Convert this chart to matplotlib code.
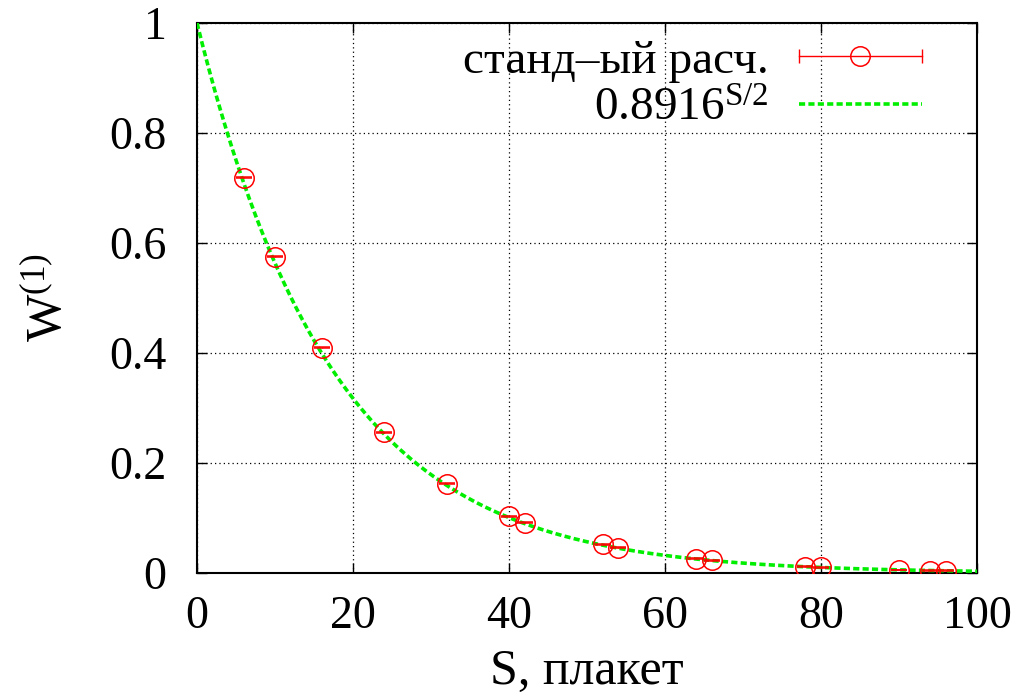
import numpy as np
import matplotlib
matplotlib.use("Agg")
import matplotlib.pyplot as plt
from matplotlib.lines import Line2D
from matplotlib.legend_handler import HandlerBase

# measured points (standard calculation)
s_vals = [6, 10, 16, 24, 32, 40, 42, 52, 54, 64, 66, 78, 80, 90, 94, 96]
w_vals = [0.719, 0.575, 0.410, 0.256, 0.162, 0.103, 0.0915, 0.052, 0.046,
          0.026, 0.023, 0.0115, 0.0103, 0.0055, 0.0042, 0.0040]
w_err = [0.0008] * len(s_vals)

fit_base = 0.8916
x_ticks = [0, 20, 40, 60, 80, 100]
y_ticks = [0, 0.2, 0.4, 0.6, 0.8, 1]

plt.rcParams['font.family'] = ['Liberation Serif', 'DejaVu Serif']
plt.rcParams['mathtext.fontset'] = 'custom'
plt.rcParams['mathtext.rm'] = 'Liberation Serif'
plt.rcParams['mathtext.it'] = 'Liberation Serif'

GREEN = '#00ee00'


class HandlerGnuErr(HandlerBase):
    """gnuplot-like key sample: horizontal bar with caps and a circle"""
    def create_artists(self, legend, orig_handle, xdescent, ydescent,
                       width, height, fontsize, trans):
        y = height / 2 - ydescent
        x0, x1 = -xdescent, width - xdescent
        bar = Line2D([x0, x1], [y, y], color='red', lw=1.0, transform=trans)
        caps = Line2D([x0, x1], [y, y], ls='none', marker='|', ms=10,
                      mew=1.0, color='red', transform=trans)
        circ = Line2D([(x0 + x1) / 2], [y], ls='none', marker='o', ms=14,
                      mfc='none', mec='red', mew=1.1, transform=trans)
        return [bar, caps, circ]


fig = plt.figure(figsize=(10.25, 7), dpi=100)
ax = fig.add_axes([0.1922, 0.1814, 0.761, 0.7857])

s_line = np.linspace(0, 100, 400)
ax.plot(s_line, fit_base ** (s_line / 2), color=GREEN, lw=2.6,
        dashes=(1.7, 0.9), zorder=3)
ax.errorbar(s_vals, w_vals, yerr=w_err, fmt='o', ms=14, mfc='none',
            mec='red', mew=1.1, ecolor='red', elinewidth=1.0, capsize=6,
            capthick=1.4, zorder=4)

ax.set_xlim(0, 100)
ax.set_ylim(0, 1)
ax.set_xticks(x_ticks)
ax.set_yticks(y_ticks)
ax.set_xticklabels([str(v) for v in x_ticks])
ax.set_yticklabels(['0', '0.2', '0.4', '0.6', '0.8', '1'])
ax.tick_params(direction='in', length=7.5, width=1.0, labelsize=33,
               top=True, right=True)
ax.tick_params(axis='x', pad=16)
ax.tick_params(axis='y', pad=22)
for sp in ax.spines.values():
    sp.set_linewidth(1.5)
ax.grid(True, color='black', ls=(0, (1, 2.5)), lw=0.9)

ax.set_xlabel('S, плакет', fontsize=36, labelpad=8)
ax.set_ylabel(r'W$^{(1)}$', fontsize=36, labelpad=26)

h_pts = Line2D([], [], color='red')
h_fit = Line2D([], [], color=GREEN, lw=2.6, dashes=(1.7, 0.9))
leg = ax.legend([h_pts, h_fit], ['станд\u2013ый расч.', r'0.8916$^{\mathrm{S/2}}$'],
                handler_map={h_pts: HandlerGnuErr()},
                loc='upper right', bbox_to_anchor=(0.929, 0.97),
                frameon=False, fontsize=34, markerfirst=False,
                handlelength=2.6, handletextpad=0.64, labelspacing=0.1,
                borderaxespad=0, borderpad=0)
for t in leg.get_texts():
    t.set_ha('right')

fig.savefig('out.png', dpi=100)
